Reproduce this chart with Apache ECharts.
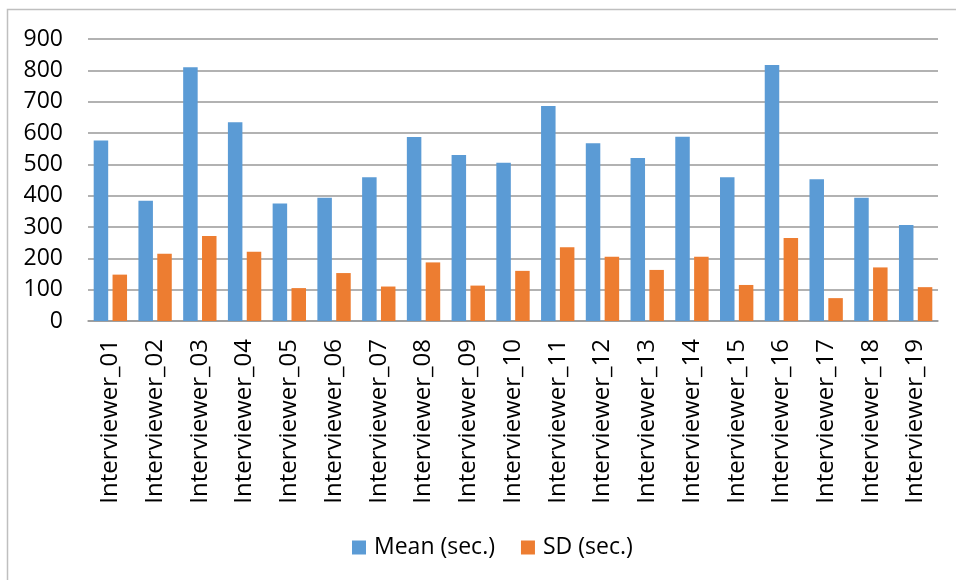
<!DOCTYPE html>
<html>
<head>
<meta charset="utf-8">
<script src="https://cdn.jsdelivr.net/npm/echarts@6/dist/echarts.min.js"></script>
<style>html,body{margin:0;padding:0;background:#fff;}#c{width:956px;height:580px;}</style>
</head>
<body>
<div id="c"></div>
<script>
const categories = ["Interviewer_01","Interviewer_02","Interviewer_03","Interviewer_04","Interviewer_05","Interviewer_06","Interviewer_07","Interviewer_08","Interviewer_09","Interviewer_10","Interviewer_11","Interviewer_12","Interviewer_13","Interviewer_14","Interviewer_15","Interviewer_16","Interviewer_17","Interviewer_18","Interviewer_19"];
const meanValues = [576, 384, 810, 634, 375, 393, 459, 587, 530, 505, 686, 567, 520, 588, 459, 817, 452, 393, 306];
const sdValues = [148, 215, 271, 221, 105, 153, 110, 187, 113, 160, 235, 205, 163, 205, 115, 265, 73, 171, 108];
const seriesNames = ["Mean (sec.)", "SD (sec.)"];

const FONT = '"Open Sans", "Liberation Sans", sans-serif';
const chart = echarts.init(document.getElementById('c'), null, {renderer: 'canvas'});
chart.setOption({
  animation: false,
  backgroundColor: '#fff',
  textStyle: {fontFamily: FONT, color: '#000'},
  graphic: [{
    type: 'rect', silent: true, z: -1,
    shape: {x: 7.5, y: 9.5, width: 1000, height: 700},
    style: {fill: 'none', stroke: '#bfbfbf', lineWidth: 1.5}
  }],
  grid: {left: 88, right: 18, top: 39, bottom: 259, containLabel: false},
  legend: {
    data: seriesNames,
    left: 347, top: 531,
    itemWidth: 14, itemHeight: 14, itemGap: 26,
    icon: 'rect',
    textStyle: {fontFamily: FONT, fontSize: 23, color: '#000', padding: [0, 0, 0, 3]}
  },
  xAxis: {
    type: 'category',
    data: categories,
    axisTick: {show: false},
    axisLine: {lineStyle: {color: '#999', width: 1.5}},
    axisLabel: {rotate: 90, fontSize: 24, color: '#000', fontFamily: FONT, margin: 18, interval: 0}
  },
  yAxis: {
    type: 'value',
    min: 0, max: 900, interval: 100,
    axisLine: {show: false},
    axisTick: {show: false},
    splitLine: {lineStyle: {color: '#999', width: 1.5}},
    axisLabel: {fontSize: 23, color: '#000', fontFamily: FONT, margin: 25}
  },
  series: [
    {name: seriesNames[0], type: 'bar', data: meanValues, barWidth: 14.5, barGap: '30%', itemStyle: {color: '#5B9BD5'}},
    {name: seriesNames[1], type: 'bar', data: sdValues, barWidth: 14.5, barGap: '30%', itemStyle: {color: '#ED7D31'}}
  ]
});
</script>
</body>
</html>
